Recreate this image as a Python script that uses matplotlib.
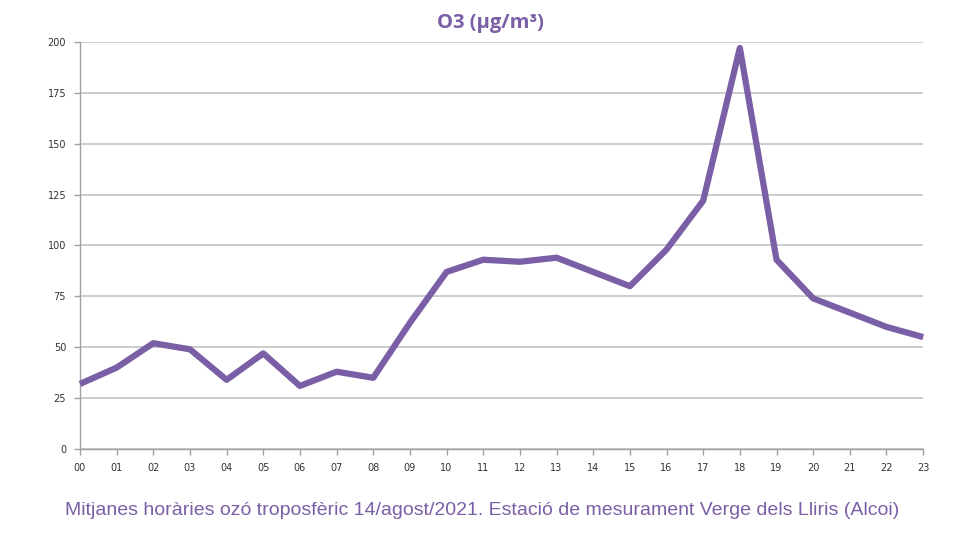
import matplotlib
matplotlib.use("Agg")
import matplotlib.pyplot as plt

hours = ["00", "01", "02", "03", "04", "05", "06", "07", "08", "09", "10", "11",
         "12", "13", "14", "15", "16", "17", "18", "19", "20", "21", "22", "23"]
o3 = [32, 40, 52, 49, 34, 47, 31, 38, 35, 62, 87, 93,
      92, 94, 87, 80, 98, 122, 197, 93, 74, 67, 60, 55]
yticks = [0, 25, 50, 75, 100, 125, 150, 175, 200]

title = "O3 (µg/m³)"
caption = "Mitjanes horàries ozó troposfèric 14/agost/2021. Estació de mesurament Verge dels Lliris (Alcoi)"

purple = "#7a5fa6"
grid_c = "#c4c4c4"

fig = plt.figure(figsize=(9.8, 5.51), dpi=100)
ax = fig.add_axes([0.0816, 0.185, 0.8604, 0.739])
x = list(range(len(hours)))
ax.plot(x, o3, color=purple, linewidth=4.5, solid_joinstyle="round",
        solid_capstyle="butt", zorder=3, clip_on=False)

ax.set_xlim(0, len(hours) - 1)
ax.set_ylim(0, 200)
ax.set_yticks(yticks)
ax.set_yticklabels([str(v) for v in yticks])
ax.set_xticks(x)
ax.set_xticklabels(hours)
ax.yaxis.grid(True, color=grid_c, linewidth=1.2)
ax.set_axisbelow(True)
for s in ["top", "right"]:
    ax.spines[s].set_visible(False)
for s in ["left", "bottom"]:
    ax.spines[s].set_color("#a0a0a0")
    ax.spines[s].set_linewidth(1.0)
ax.tick_params(axis="both", labelsize=7, colors="#a0a0a0", labelcolor="#333333", length=4, width=1)
ax.tick_params(axis="x", pad=6)
ax.tick_params(axis="y", pad=6)

fig.text(0.5, 0.958, title, ha="center", va="center", fontsize=14.5, fontweight="bold",
         color=purple, family=["Open Sans", "DejaVu Sans"])
fig.text(0.492, 0.074, caption, ha="center", va="center", fontsize=14,
         color=purple, family=["Liberation Sans", "DejaVu Sans"])

fig.savefig("out.png", dpi=100)
